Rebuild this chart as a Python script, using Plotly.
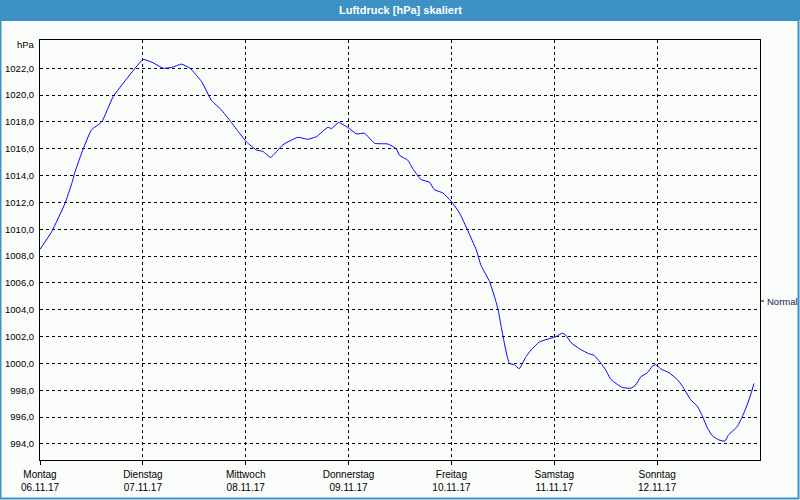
import plotly.graph_objects as go

# ---- data (hours since Monday 06.11.17 00:00, pressure hPa) ----
hours = [0, 2.7, 5.8, 7.4, 8.2, 10.1, 12.0, 14.4, 17.1, 20.2, 24.1, 26.4, 28.7, 30.7,
         33.0, 35.0, 37.7, 40.0, 42.3, 44.3, 46.2, 48.2, 50.5, 52.0, 53.8, 56.7, 60.2,
         62.5, 64.5, 67.2, 68.0, 69.7, 72.2, 73.8, 75.7, 78.1, 81.2, 83.1, 83.9, 85.8,
         87.0, 88.9, 90.9, 92.0, 94.0, 95.9, 97.9, 99.8, 101.8, 102.9, 104.9, 106.3,
         107.0, 107.6, 109.5, 110.7, 111.8, 113.4, 114.6, 116.5, 118.4, 120.4, 121.9,
         122.7, 123.9, 125.8, 128.2, 129.3, 130.9, 132.0, 133.2, 134.4, 135.9, 137.9,
         139.0, 140.2, 141.7, 142.9, 143.7, 144.8, 146.8, 148.7, 149.9, 151.8, 153.4,
         154.6, 155.7, 156.9, 158.4, 159.8, 160.6, 162.7, 163.9, 165.0, 165.8, 166.6]
pressure = [1008.5, 1009.8, 1011.9, 1013.4, 1014.3, 1016.0, 1017.4, 1018.0, 1019.9, 1021.2,
            1022.65, 1022.4, 1022.0, 1022.05, 1022.3, 1022.0, 1021.0, 1019.6, 1018.9,
            1018.1, 1017.3, 1016.5, 1015.9, 1015.8, 1015.35, 1016.3, 1016.85, 1016.7,
            1016.9, 1017.6, 1017.5, 1017.95, 1017.5, 1017.1, 1017.15, 1016.4, 1016.35,
            1016.0, 1015.5, 1015.15, 1014.5, 1013.7, 1013.5, 1012.95, 1012.7, 1012.1,
            1011.2, 1009.9, 1008.45, 1007.3, 1006.1, 1004.7, 1003.85, 1002.75, 1000.0,
            999.9, 999.6, 1000.5, 1001.0, 1001.6, 1001.8, 1002.0, 1002.25, 1002.1,
            1001.55, 1001.1, 1000.7, 1000.6, 1000.0, 999.5, 998.8, 998.5, 998.2, 998.15,
            998.4, 999.0, 999.3, 999.8, 999.9, 999.6, 999.3, 998.8, 998.3, 997.3, 996.8,
            996.05, 995.2, 994.6, 994.3, 994.2, 994.65, 995.3, 996.05, 996.9, 997.65, 998.5]

day_hours = [0, 24, 48, 72, 96, 120, 144]
day_names = ["Montag", "Dienstag", "Mittwoch", "Donnerstag", "Freitag", "Samstag", "Sonntag"]
day_dates = ["06.11.17", "07.11.17", "08.11.17", "09.11.17", "10.11.17", "11.11.17", "12.11.17"]

y_ticks = [994, 996, 998, 1000, 1002, 1004, 1006, 1008, 1010, 1012, 1014, 1016, 1018, 1020, 1022]
y_labels = [f"{v:.1f}".replace(".", ",") for v in y_ticks]

title = "Luftdruck [hPa] skaliert"
unit = "hPa"
series_name = "Normal"

# ---- layout geometry ----
W, H = 800, 500
L, R, T, B = 40, 40, 40, 40
PW, PH = W - L - R, H - T - B
def px(x):
    return (x - L) / PW
def py(y):
    return (H - B - y) / PH

BLUE = "#3d92c5"
BG = "#fafcfa"
FONT = "Liberation Sans"

fig = go.Figure()
fig.add_trace(go.Scatter(x=hours, y=pressure, mode="lines", name=series_name,
                         line=dict(color="#0000ff", width=1, shape="spline", smoothing=0.4),
                         showlegend=False))

fig.update_layout(
    width=W, height=H,
    margin=dict(l=L, r=R, t=T, b=B, autoexpand=False),
    paper_bgcolor=BG, plot_bgcolor=BG,
    font=dict(family=FONT, size=10, color="#000000"),
    xaxis=dict(range=[0, 168], tickvals=day_hours,
               ticktext=[f"{n}<br>{d}" for n, d in zip(day_names, day_dates)],
               showgrid=True, gridcolor="#000000", griddash="3px,3px", gridwidth=1,
               showline=True, linecolor="#000000", linewidth=1, mirror=True,
               ticks="outside", ticklen=4, tickcolor="#000000",
               ticklabelstandoff=1, automargin=False,
               zeroline=False, fixedrange=True),
    yaxis=dict(range=[992.8, 1024.1], tickvals=y_ticks, ticktext=y_labels,
               showgrid=True, gridcolor="#000000", griddash="3px,3px", gridwidth=1,
               showline=True, linecolor="#000000", linewidth=1, mirror=True,
               ticks="", ticklabelstandoff=3, automargin=False,
               tickfont=dict(size=9.5),
               zeroline=False, fixedrange=True),
    shapes=[
        dict(type="rect", xref="paper", yref="paper", x0=px(0), x1=px(W), y0=py(0), y1=py(20),
             fillcolor=BLUE, line=dict(width=0), layer="below"),
        dict(type="rect", xref="paper", yref="paper", x0=px(0.5), x1=px(W - 1.5), y0=py(20), y1=py(H - 1.5),
             fillcolor="rgba(0,0,0,0)", line=dict(color=BLUE, width=2)),
        dict(type="line", xref="paper", yref="paper", x0=px(761), x1=px(764), y0=py(301), y1=py(301),
             line=dict(color="#000000", width=1)),
    ],
    annotations=[
        dict(text=f"<b>{title}</b>", xref="paper", yref="paper", x=px(W / 2), y=py(10),
             xanchor="center", yanchor="middle", showarrow=False,
             font=dict(family=FONT, size=11, color="#ffffff")),
        dict(text=unit, xref="paper", yref="paper", x=px(37), y=py(45),
             xanchor="right", yanchor="middle", showarrow=False,
             font=dict(family=FONT, size=9.5, color="#000000")),
        dict(text=series_name, xref="paper", yref="paper", x=px(765), y=py(301),
             xanchor="left", yanchor="middle", showarrow=False,
             font=dict(family=FONT, size=9.5, color="#1a2050")),
    ],
)

fig.write_html("out.html")
